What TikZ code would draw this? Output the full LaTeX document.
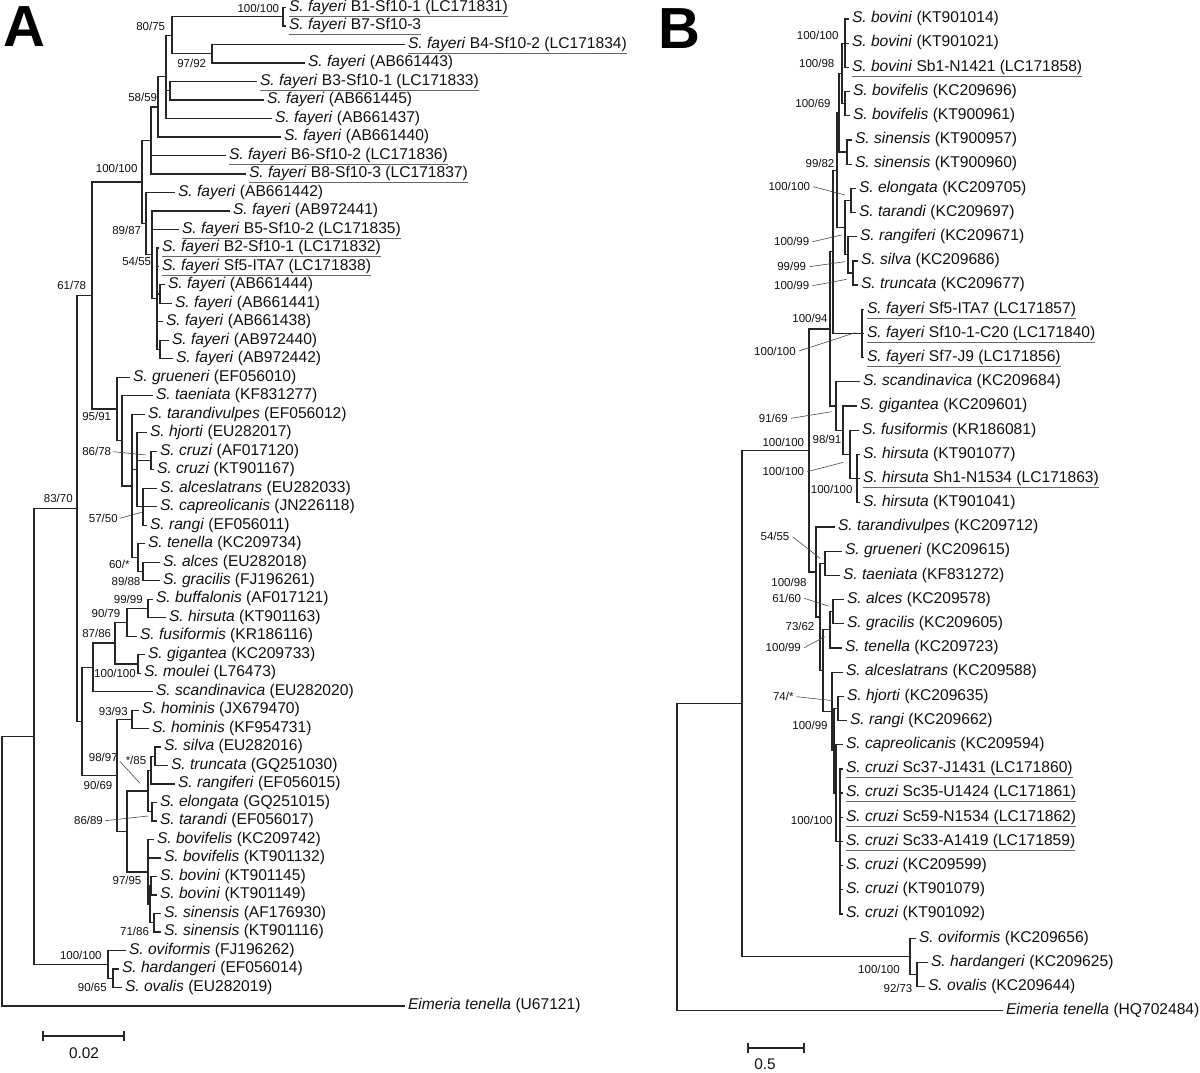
\documentclass[tikz,border=0pt]{standalone}
\usepackage{fontspec}
\setmainfont{Liberation Sans}
\usetikzlibrary{calc}
\definecolor{ln}{HTML}{262626}
\definecolor{tx}{HTML}{111111}
\newcommand\ulx[1]{\leavevmode\rlap{\color{black!60}\underline{\phantom{#1}}}#1}
\newcommand\Sx[1]{\textit{S. #1}}
\newcommand\leafA[4]{\node[leaf] (#1) at (#2,{7.5+(#3-1)*18.49}) {#4};}
\newcommand\leafB[4]{\node[leaf] (#1) at (#2,{19+(#3-1)*24.19}) {#4};}
\newcommand\inode[4]{\path let \p1=(#3), \p2=(#4) in coordinate (#1) at (#2pt,{0.5*(\y1+\y2)});}
\newcommand\tbr[2]{\foreach \ch in {#2}{\draw[branch] (#1) |- (\ch);}}
\begin{document}
\begin{tikzpicture}[x=1pt,y=-1pt,
  leaf/.style={anchor=west,inner xsep=4pt,inner ysep=0pt,outer sep=0pt,text height=11.2pt,text depth=3.6pt,font=\fontsize{15.6}{18}\selectfont,text=tx},
  bs/.style={font=\fontsize{11.5}{13}\selectfont,inner sep=0pt,text=tx},
  branch/.style={draw=ln,line width=1.25pt,line cap=rect},
  leader/.style={draw=ln!85,line width=0.6pt},
  lettr/.style={font=\fontsize{58}{60}\bfseries\selectfont,inner sep=0pt,text=black},
  sbar/.style={draw=ln,line width=1.1pt},
  stext/.style={font=\fontsize{15.4}{18}\selectfont,inner sep=0pt,text=tx}]
\useasboundingbox (0,0) rectangle (1200,1072);
\fill[white] (0,0) rectangle (1200,1072);

\node[lettr] (LA) at (24,27) {A};
\node[lettr] (LB) at (679,29) {B};

% ---------------- Tree A leaves
\leafA{a1}{285}{1}{\ulx{\Sx{fayeri} B1-Sf10-1 (LC171831)}}
\leafA{a2}{285}{2}{\ulx{\Sx{fayeri} B7-Sf10-3}}
\leafA{a3}{404}{3}{\ulx{\Sx{fayeri} B4-Sf10-2 (LC171834)}}
\leafA{a4}{304}{4}{\Sx{fayeri} (AB661443)}
\leafA{a5}{256}{5}{\ulx{\Sx{fayeri} B3-Sf10-1 (LC171833)}}
\leafA{a6}{263}{6}{\Sx{fayeri} (AB661445)}
\leafA{a7}{271}{7}{\Sx{fayeri} (AB661437)}
\leafA{a8}{280}{8}{\Sx{fayeri} (AB661440)}
\leafA{a9}{225}{9}{\ulx{\Sx{fayeri} B6-Sf10-2 (LC171836)}}
\leafA{a10}{245}{10}{\ulx{\Sx{fayeri} B8-Sf10-3 (LC171837)}}
\leafA{a11}{174}{11}{\Sx{fayeri} (AB661442)}
\leafA{a12}{229}{12}{\Sx{fayeri} (AB972441)}
\leafA{a13}{178}{13}{\ulx{\Sx{fayeri} B5-Sf10-2 (LC171835)}}
\leafA{a14}{158}{14}{\ulx{\Sx{fayeri} B2-Sf10-1 (LC171832)}}
\leafA{a15}{158}{15}{\ulx{\Sx{fayeri} Sf5-ITA7 (LC171838)}}
\leafA{a16}{164}{16}{\Sx{fayeri} (AB661444)}
\leafA{a17}{171}{17}{\Sx{fayeri} (AB661441)}
\leafA{a18}{162}{18}{\Sx{fayeri} (AB661438)}
\leafA{a19}{168}{19}{\Sx{fayeri} (AB972440)}
\leafA{a20}{172}{20}{\Sx{fayeri} (AB972442)}
\leafA{a21}{129}{21}{\Sx{grueneri} (EF056010)}
\leafA{a22}{152}{22}{\Sx{taeniata} (KF831277)}
\leafA{a23}{144}{23}{\Sx{tarandivulpes} (EF056012)}
\leafA{a24}{146}{24}{\Sx{hjorti} (EU282017)}
\leafA{a25}{156}{25}{\Sx{cruzi} (AF017120)}
\leafA{a26}{153}{26}{\Sx{cruzi} (KT901167)}
\leafA{a27}{156}{27}{\Sx{alceslatrans} (EU282033)}
\leafA{a28}{156}{28}{\Sx{capreolicanis} (JN226118)}
\leafA{a29}{146}{29}{\Sx{rangi} (EF056011)}
\leafA{a30}{144}{30}{\Sx{tenella} (KC209734)}
\leafA{a31}{159}{31}{\Sx{alces} (EU282018)}
\leafA{a32}{159}{32}{\Sx{gracilis} (FJ196261)}
\leafA{a33}{152}{33}{\Sx{buffalonis} (AF017121)}
\leafA{a34}{165}{34}{\Sx{hirsuta} (KT901163)}
\leafA{a35}{136}{35}{\Sx{fusiformis} (KR186116)}
\leafA{a36}{144}{36}{\Sx{gigantea} (KC209733)}
\leafA{a37}{140}{37}{\Sx{moulei} (L76473)}
\leafA{a38}{152}{38}{\Sx{scandinavica} (EU282020)}
\leafA{a39}{138}{39}{\Sx{hominis} (JX679470)}
\leafA{a40}{148}{40}{\Sx{hominis} (KF954731)}
\leafA{a41}{160}{41}{\Sx{silva} (EU282016)}
\leafA{a42}{167}{42}{\Sx{truncata} (GQ251030)}
\leafA{a43}{174}{43}{\Sx{rangiferi} (EF056015)}
\leafA{a44}{156}{44}{\Sx{elongata} (GQ251015)}
\leafA{a45}{156}{45}{\Sx{tarandi} (EF056017)}
\leafA{a46}{153}{46}{\Sx{bovifelis} (KC209742)}
\leafA{a47}{160}{47}{\Sx{bovifelis} (KT901132)}
\leafA{a48}{156}{48}{\Sx{bovini} (KT901145)}
\leafA{a49}{156}{49}{\Sx{bovini} (KT901149)}
\leafA{a50}{160}{50}{\Sx{sinensis} (AF176930)}
\leafA{a51}{160}{51}{\Sx{sinensis} (KT901116)}
\leafA{a52}{125}{52}{\Sx{oviformis} (FJ196262)}
\leafA{a53}{118}{53}{\Sx{hardangeri} (EF056014)}
\leafA{a54}{121}{54}{\Sx{ovalis} (EU282019)}
\leafA{a55}{404}{55}{\textit{Eimeria tenella} (U67121)}

% ---------------- Tree A internal nodes
\inode{N1}{283}{a1}{a2}
\inode{N2}{212}{a3}{a4}
\inode{N3}{172}{N1}{N2}
\inode{N4}{170}{a5}{a6}
\inode{N5}{166}{N3}{a7}
\inode{N6}{158}{N5}{a8}
\inode{N7}{151}{N6}{a10}
\inode{AW}{160}{a16}{a17}
\inode{AP}{160}{a19}{a20}
\inode{AQ}{157}{a14}{AP}
\inode{AZ}{152}{a12}{AQ}
\inode{F89}{146}{a11}{AZ}
\inode{N8}{142}{N7}{F89}
\inode{CP}{151}{a25}{a26}
\inode{N15}{143}{a27}{a29}
\inode{N13}{137}{a24}{N15}
\inode{AlGr}{143}{a31}{a32}
\inode{N14}{138}{a30}{AlGr}
\inode{N12}{132}{a23}{N14}
\inode{N11}{122}{a22}{N12}
\inode{N10}{117}{a21}{N11}
\inode{N9}{92}{N8}{N10}
\inode{BuHi}{148}{a33}{a34}
\inode{N21}{127}{BuHi}{a35}
\inode{GiMo}{138}{a36}{a37}
\inode{N20}{115}{N21}{GiMo}
\inode{N18}{93}{N20}{a38}
\inode{Hom}{132}{a39}{a40}
\inode{ST}{155}{a41}{a42}
\inode{N25}{151}{ST}{a43}
\inode{ElTa}{152}{a44}{a45}
\inode{N24}{148}{N25}{ElTa}
\inode{BoBo}{151}{a48}{a49}
\inode{SiSi}{154}{a50}{a51}
\inode{AB1}{150}{BoBo}{SiSi}
\inode{B0}{148}{a46}{AB1}
\inode{N23}{127}{N24}{B0}
\inode{N22}{117}{Hom}{N23}
\inode{N17}{82}{N18}{N22}
\inode{N16}{77}{N9}{N17}
\inode{HO}{113}{a53}{a54}
\inode{O1}{108}{a52}{HO}
\inode{N0}{34}{N16}{O1}
\inode{RA}{2}{N0}{a55}

% ---------------- Tree A branches
\tbr{N1}{a1.west,a2.west}
\tbr{N2}{a3.west,a4.west}
\tbr{N3}{N1,N2}
\tbr{N4}{a5.west,a6.west}
\tbr{N5}{N3,N4,a7.west}
\tbr{N6}{N5,a8.west}
\tbr{N7}{N6,a9.west,a10.west}
\tbr{AW}{a16.west,a17.west}
\tbr{AP}{a19.west,a20.west}
\tbr{AQ}{a14.west,a15.west,AW,a18.west,AP}
\tbr{AZ}{a12.west,a13.west,AQ}
\tbr{F89}{a11.west,AZ}
\tbr{N8}{N7,F89}
\tbr{CP}{a25.west,a26.west}
\tbr{N15}{a27.west,a28.west,a29.west}
\tbr{N13}{a24.west,CP,N15}
\tbr{AlGr}{a31.west,a32.west}
\tbr{N14}{a30.west,AlGr}
\tbr{N12}{a23.west,N13,N14}
\tbr{N11}{a22.west,N12}
\tbr{N10}{a21.west,N11}
\tbr{N9}{N8,N10}
\tbr{BuHi}{a33.west,a34.west}
\tbr{N21}{BuHi,a35.west}
\tbr{GiMo}{a36.west,a37.west}
\tbr{N20}{N21,GiMo}
\tbr{N18}{N20,a38.west}
\tbr{Hom}{a39.west,a40.west}
\tbr{ST}{a41.west,a42.west}
\tbr{N25}{ST,a43.west}
\tbr{ElTa}{a44.west,a45.west}
\tbr{N24}{N25,ElTa}
\tbr{BoBo}{a48.west,a49.west}
\tbr{SiSi}{a50.west,a51.west}
\tbr{AB1}{BoBo,SiSi}
\tbr{B0}{a46.west,a47.west,AB1}
\tbr{N23}{N24,B0}
\tbr{N22}{Hom,N23}
\tbr{N17}{N18,N22}
\tbr{N16}{N9,N17}
\tbr{HO}{a53.west,a54.west}
\tbr{O1}{a52.west,HO}
\tbr{N0}{N16,O1}
\tbr{RA}{N0,a55.west}

% ---------------- Tree A support labels
\node[bs] (la1) at (258.3,8.3) {100/100};
\node[bs] (la2) at (150.7,26) {80/75};
\node[bs] (la3) at (191.7,63.3) {97/92};
\node[bs] (la4) at (142.7,97.7) {58/59};
\node[bs] (la5) at (116.7,168.3) {100/100};
\node[bs] (la6) at (126.7,230) {89/87};
\node[bs] (la7) at (136.7,261) {54/55};
\node[bs] (la8) at (71.7,285) {61/78};
\node[bs] (la9) at (96.7,416.7) {95/91};
\node[bs] (la10) at (96.7,451.7) {86/78};
\node[bs] (la11) at (103.3,518.3) {57/50};
\node[bs] (la12) at (58.3,498.3) {83/70};
\node[bs] (la13) at (119.3,564.3) {60/*};
\node[bs] (la14) at (126,581) {89/88};
\node[bs] (la15) at (128.3,599.3) {99/99};
\node[bs] (la16) at (106,613.3) {90/79};
\node[bs] (la17) at (96.7,633.3) {87/86};
\node[bs] (la18) at (115,673.3) {100/100};
\node[bs] (la19) at (113.3,711) {93/93};
\node[bs] (la20) at (103.3,757.3) {98/97};
\node[bs] (la21) at (136,760.7) {*/85};
\node[bs] (la22) at (98,785) {90/69};
\node[bs] (la23) at (88.5,820.7) {86/89};
\node[bs] (la24) at (127,880) {97/95};
\node[bs] (la25) at (134.6,931.7) {71/86};
\node[bs] (la26) at (80.8,955.7) {100/100};
\node[bs] (la27) at (92.3,987.3) {90/65};
\coordinate (ta10) at (145.7,455);
\coordinate (ta11) at (141.7,512.3);
\coordinate (ta20) at (140,783.3);
\coordinate (ta23) at (148,816);
\draw[leader] ([xshift=2pt]la10.east) -- (ta10);
\draw[leader] ([xshift=2pt]la11.east) -- (ta11);
\draw[leader] ([xshift=2pt,yshift=-4pt]la20.east) -- (ta20);
\draw[leader] ([xshift=2pt]la23.east) -- (ta23);

% ---------------- Tree A scale bar
\coordinate (sa1) at (43,1036);
\coordinate (sa2) at (124,1036);
\draw[sbar] (sa1) -- (sa2);
\draw[sbar] ([yshift=5pt]sa1) -- ([yshift=-5pt]sa1);
\draw[sbar] ([yshift=5pt]sa2) -- ([yshift=-5pt]sa2);
\node[stext] (sat) at (84,1053) {0.02};

% ---------------- Tree B leaves
\leafB{b1}{848}{1}{\Sx{bovini} (KT901014)}
\leafB{b2}{848}{2}{\Sx{bovini} (KT901021)}
\leafB{b3}{848}{3}{\ulx{\Sx{bovini} Sb1-N1421 (LC171858)}}
\leafB{b4}{849}{4}{\Sx{bovifelis} (KC209696)}
\leafB{b5}{849}{5}{\Sx{bovifelis} (KT900961)}
\leafB{b6}{851}{6}{\Sx{sinensis} (KT900957)}
\leafB{b7}{851}{7}{\Sx{sinensis} (KT900960)}
\leafB{b8}{855}{8}{\Sx{elongata} (KC209705)}
\leafB{b9}{855}{9}{\Sx{tarandi} (KC209697)}
\leafB{b10}{856}{10}{\Sx{rangiferi} (KC209671)}
\leafB{b11}{857}{11}{\Sx{silva} (KC209686)}
\leafB{b12}{857}{12}{\Sx{truncata} (KC209677)}
\leafB{b13}{863}{13}{\ulx{\Sx{fayeri} Sf5-ITA7 (LC171857)}}
\leafB{b14}{863}{14}{\ulx{\Sx{fayeri} Sf10-1-C20 (LC171840)}}
\leafB{b15}{863}{15}{\ulx{\Sx{fayeri} Sf7-J9 (LC171856)}}
\leafB{b16}{859}{16}{\Sx{scandinavica} (KC209684)}
\leafB{b17}{856}{17}{\Sx{gigantea} (KC209601)}
\leafB{b18}{858}{18}{\Sx{fusiformis} (KR186081)}
\leafB{b19}{859}{19}{\Sx{hirsuta} (KT901077)}
\leafB{b20}{859}{20}{\ulx{\Sx{hirsuta} Sh1-N1534 (LC171863)}}
\leafB{b21}{859}{21}{\Sx{hirsuta} (KT901041)}
\leafB{b22}{834}{22}{\Sx{tarandivulpes} (KC209712)}
\leafB{b23}{841}{23}{\Sx{grueneri} (KC209615)}
\leafB{b24}{839}{24}{\Sx{taeniata} (KF831272)}
\leafB{b25}{843}{25}{\Sx{alces} (KC209578)}
\leafB{b26}{843}{26}{\Sx{gracilis} (KC209605)}
\leafB{b27}{841}{27}{\Sx{tenella} (KC209723)}
\leafB{b28}{842}{28}{\Sx{alceslatrans} (KC209588)}
\leafB{b29}{843}{29}{\Sx{hjorti} (KC209635)}
\leafB{b30}{846}{30}{\Sx{rangi} (KC209662)}
\leafB{b31}{842}{31}{\Sx{capreolicanis} (KC209594)}
\leafB{b32}{842}{32}{\ulx{\Sx{cruzi} Sc37-J1431 (LC171860)}}
\leafB{b33}{842}{33}{\ulx{\Sx{cruzi} Sc35-U1424 (LC171861)}}
\leafB{b34}{842}{34}{\ulx{\Sx{cruzi} Sc59-N1534 (LC171862)}}
\leafB{b35}{842}{35}{\ulx{\Sx{cruzi} Sc33-A1419 (LC171859)}}
\leafB{b36}{842}{36}{\Sx{cruzi} (KC209599)}
\leafB{b37}{842}{37}{\Sx{cruzi} (KT901079)}
\leafB{b38}{842}{38}{\Sx{cruzi} (KT901092)}
\leafB{b39}{915}{39}{\Sx{oviformis} (KC209656)}
\leafB{b40}{927}{40}{\Sx{hardangeri} (KC209625)}
\leafB{b41}{924}{41}{\Sx{ovalis} (KC209644)}
\leafB{b42}{1002}{42}{\textit{Eimeria tenella} (HQ702484)}

% ---------------- Tree B internal nodes
\inode{V1}{845}{b1}{b3}
\inode{V3}{845}{b4}{b5}
\inode{V2}{842}{V1}{V3}
\inode{V5}{847}{b6}{b7}
\inode{V4}{839}{V2}{V5}
\inode{E1}{851}{b8}{b9}
\inode{S1}{853}{b11}{b12}
\inode{R1}{848}{b10}{S1}
\inode{ER}{845}{E1}{R1}
\inode{V6}{837}{V4}{ER}
\inode{F1}{862}{b13}{b15}
\inode{C1}{833}{V6}{F1}
\inode{H1}{857}{b19}{b21}
\inode{FH}{850}{b18}{H1}
\inode{GFH}{843}{b17}{FH}
\inode{SG}{836}{b16}{GFH}
\inode{CC}{830}{C1}{SG}
\inode{GT}{825}{b23}{b24}
\inode{AG}{833}{b25}{b26}
\inode{AGT}{830}{AG}{b27}
\inode{HR}{838}{b29}{b30}
\inode{CZ}{840}{b32}{b38}
\inode{Y3}{836}{b31}{CZ}
\inode{Y2}{834}{HR}{Y3}
\inode{YY}{832}{b28}{Y2}
\inode{PP}{823}{AGT}{YY}
\inode{QQ}{820}{GT}{PP}
\inode{LL}{816}{b22}{QQ}
\inode{MM}{809}{CC}{LL}
\inode{HOB}{917}{b40}{b41}
\inode{OvN}{910}{b39}{HOB}
\inode{BR}{742}{MM}{OvN}
\inode{RB}{677}{BR}{b42}

% ---------------- Tree B branches
\tbr{V1}{b1.west,b2.west,b3.west}
\tbr{V3}{b4.west,b5.west}
\tbr{V2}{V1,V3}
\tbr{V5}{b6.west,b7.west}
\tbr{V4}{V2,V5}
\tbr{E1}{b8.west,b9.west}
\tbr{S1}{b11.west,b12.west}
\tbr{R1}{b10.west,S1}
\tbr{ER}{E1,R1}
\tbr{V6}{V4,ER}
\tbr{F1}{b13.west,b14.west,b15.west}
\tbr{C1}{V6,F1}
\tbr{H1}{b19.west,b20.west,b21.west}
\tbr{FH}{b18.west,H1}
\tbr{GFH}{b17.west,FH}
\tbr{SG}{b16.west,GFH}
\tbr{CC}{C1,SG}
\tbr{GT}{b23.west,b24.west}
\tbr{AG}{b25.west,b26.west}
\tbr{AGT}{AG,b27.west}
\tbr{HR}{b29.west,b30.west}
\tbr{CZ}{b32.west,b33.west,b34.west,b35.west,b36.west,b37.west,b38.west}
\tbr{Y3}{b31.west,CZ}
\tbr{Y2}{HR,Y3}
\tbr{YY}{b28.west,Y2}
\tbr{PP}{AGT,YY}
\tbr{QQ}{GT,PP}
\tbr{LL}{b22.west,QQ}
\tbr{MM}{CC,LL}
\tbr{HOB}{b40.west,b41.west}
\tbr{OvN}{b39.west,HOB}
\tbr{BR}{MM,OvN}
\tbr{RB}{BR,b42.west}

% ---------------- Tree B support labels
\node[bs] (lb1) at (817.7,35) {100/100};
\node[bs] (lb2) at (816.7,63.3) {100/98};
\node[bs] (lb3) at (813,103.3) {100/69};
\node[bs] (lb4) at (820,163.3) {99/82};
\node[bs] (lb5) at (789.3,186.7) {100/100};
\node[bs] (lb6) at (791.7,241.7) {100/99};
\node[bs] (lb7) at (791.7,266.7) {99/99};
\node[bs] (lb8) at (791.7,285.7) {100/99};
\node[bs] (lb9) at (810,318.3) {100/94};
\node[bs] (lb10) at (775,351) {100/100};
\node[bs] (lb11) at (773.3,418.3) {91/69};
\node[bs] (lb12) at (827,439) {98/91};
\node[bs] (lb13) at (783.3,442.7) {100/100};
\node[bs] (lb14) at (783.3,471.7) {100/100};
\node[bs] (lb15) at (831.7,489) {100/100};
\node[bs] (lb16) at (775,536.7) {54/55};
\node[bs] (lb17) at (789,582) {100/98};
\node[bs] (lb18) at (786.7,598.3) {61/60};
\node[bs] (lb19) at (800,626.7) {73/62};
\node[bs] (lb20) at (783.3,647.7) {100/99};
\node[bs] (lb21) at (783.3,696.7) {74/*};
\node[bs] (lb22) at (810,725) {100/99};
\node[bs] (lb23) at (811.7,820.7) {100/100};
\node[bs] (lb24) at (879,969) {100/100};
\node[bs] (lb25) at (898,988) {92/73};
\coordinate (tb5) at (845,195);
\coordinate (tb6) at (841.7,235);
\coordinate (tb7) at (845,261.7);
\coordinate (tb8) at (846.7,279.3);
\coordinate (tb10) at (855,332.7);
\coordinate (tb11) at (831.7,411.7);
\coordinate (tb14) at (843.3,462.3);
\coordinate (tb16) at (820,558.3);
\coordinate (tb18) at (828.3,606);
\coordinate (tb20) at (825,636.7);
\coordinate (tb21) at (833.3,700.7);
\draw[leader] ([xshift=3pt]lb5.east) -- (tb5);
\draw[leader] ([xshift=3pt]lb6.east) -- (tb6);
\draw[leader] ([xshift=3pt]lb7.east) -- (tb7);
\draw[leader] ([xshift=3pt]lb8.east) -- (tb8);
\draw[leader] ([xshift=3pt]lb10.east) -- (tb10);
\draw[leader] ([xshift=3pt]lb11.east) -- (tb11);
\draw[leader] ([xshift=3pt]lb14.east) -- (tb14);
\draw[leader] ([xshift=3pt]lb16.east) -- (tb16);
\draw[leader] ([xshift=3pt]lb18.east) -- (tb18);
\draw[leader] ([xshift=3pt]lb20.east) -- (tb20);
\draw[leader] ([xshift=3pt]lb21.east) -- (tb21);

% ---------------- Tree B scale bar
\coordinate (sb1) at (748,1048);
\coordinate (sb2) at (804,1048);
\draw[sbar] (sb1) -- (sb2);
\draw[sbar] ([yshift=5pt]sb1) -- ([yshift=-5pt]sb1);
\draw[sbar] ([yshift=5pt]sb2) -- ([yshift=-5pt]sb2);
\node[stext] (sbt) at (765,1064) {0.5};
\end{tikzpicture}
\end{document}
